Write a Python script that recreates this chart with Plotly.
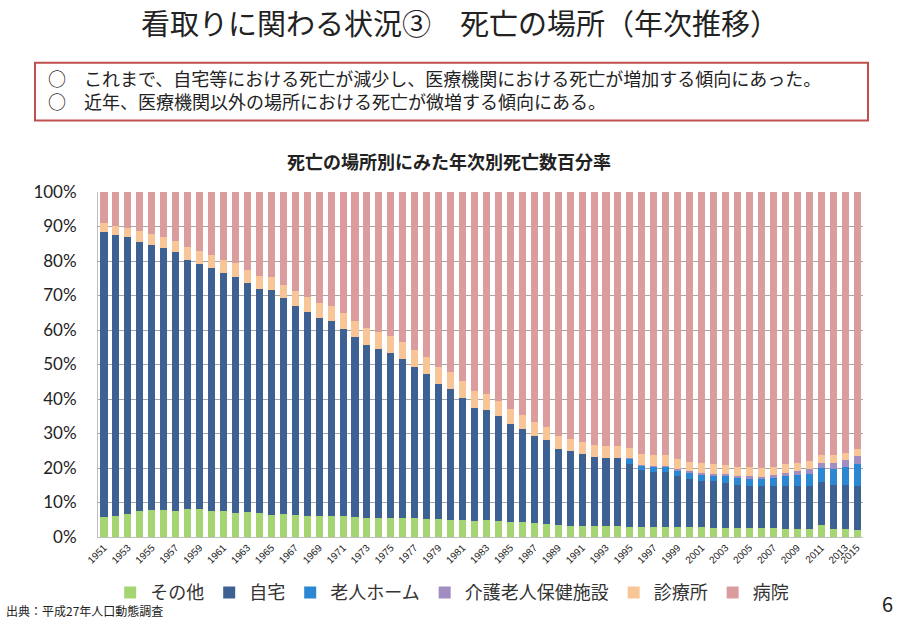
import plotly.graph_objects as go

years = [str(y) for y in range(1951, 2014)] + ["2015"]

sonota = [5.9, 6.2, 6.7, 7.5, 7.7, 7.7, 7.5, 8.0, 8.2, 7.4,
          7.6, 7.0, 7.2, 7.0, 6.5, 6.7, 6.3, 6.1, 6.1, 6.0,
          6.1, 5.9, 5.6, 5.4, 5.6, 5.4, 5.4, 5.3, 5.1, 5.0,
          4.9, 4.7, 4.8, 4.7, 4.4, 4.3, 4.1, 3.9, 3.6, 3.3,
          3.3, 3.3, 3.3, 3.2, 2.9, 2.9, 2.9, 2.9, 2.9, 2.8,
          2.8, 2.7, 2.7, 2.7, 2.6, 2.5, 2.5, 2.4, 2.4, 2.3,
          3.5, 2.4, 2.2, 2.1]

jitaku = [82.5, 81.2, 80.2, 77.9, 76.9, 76.0, 75.0, 72.4, 71.0, 70.7,
          68.9, 68.5, 66.3, 64.8, 65.0, 62.6, 60.8, 59.2, 57.4, 56.6,
          54.1, 52.0, 50.1, 49.1, 47.7, 46.2, 44.0, 41.9, 39.2, 38.0,
          35.3, 32.7, 32.0, 30.3, 28.3, 26.9, 25.2, 24.1, 22.0, 21.7,
          20.7, 20.0, 19.7, 19.8, 18.3, 16.5, 15.8, 15.8, 14.8, 13.9,
          13.5, 13.4, 13.0, 12.4, 12.2, 12.2, 12.3, 12.5, 12.4, 12.6,
          12.5, 12.8, 12.9, 12.7]

rojin_home = [None] * 44 + [1.5, 1.4, 1.6, 1.7, 1.5, 1.9,
                            1.8, 1.8, 1.9, 2.0, 2.1, 2.1, 2.4, 2.8, 3.2, 3.5,
                            4.0, 4.6, 5.3, 6.3]

rouken = [None] * 44 + [0.2, 0.2, 0.3, 0.3, 0.4, 0.5,
                        0.5, 0.5, 0.6, 0.6, 0.7, 0.7, 0.7, 0.9, 1.0, 1.3,
                        1.5, 1.7, 1.9, 2.3]

shinryojo = [2.6, 2.8, 2.8, 3.2, 3.1, 3.2, 3.4, 3.6, 3.6, 3.7,
             3.9, 3.9, 4.0, 3.9, 3.9, 3.8, 4.3, 4.3, 4.4, 4.5,
             4.8, 4.8, 5.0, 4.9, 4.9, 4.8, 4.9, 4.9, 5.0, 4.9,
             4.9, 4.8, 4.6, 4.3, 4.3, 4.2, 3.9, 3.9, 3.7, 3.4,
             3.4, 3.4, 3.3, 3.3, 3.0, 3.2, 3.1, 3.0, 3.0, 2.8,
             2.8, 2.8, 2.7, 2.6, 2.6, 2.5, 2.4, 2.5, 2.4, 2.4,
             2.3, 2.2, 2.2, 2.1]

byoin = [9.1, 9.8, 10.3, 11.4, 12.3, 13.1, 14.1, 16.0, 17.2, 18.2,
         19.6, 20.6, 22.5, 24.3, 24.6, 26.9, 28.6, 30.4, 32.1, 32.9,
         35.0, 37.3, 39.3, 40.6, 41.8, 43.6, 45.7, 47.9, 50.7, 52.1,
         54.9, 57.8, 58.6, 60.7, 63.0, 64.6, 66.8, 68.1, 70.7, 71.6,
         72.6, 73.3, 73.7, 73.7, 74.1, 75.8, 76.3, 76.3, 77.4, 78.2,
         78.6, 78.8, 79.1, 79.7, 79.8, 80.0, 79.7, 78.9, 78.6, 77.9,
         76.2, 76.3, 75.6, 74.6]

tick_years = [str(y) for y in range(1951, 2014, 2)] + ["2015"]

series = [
    ("その他", sonota, "#A5D573"),
    ("自宅", jitaku, "#3E6193"),
    ("老人ホーム", rojin_home, "#2B87D2"),
    ("介護老人保健施設", rouken, "#A28DC2"),
    ("診療所", shinryojo, "#F8C597"),
    ("病院", byoin, "#DB9C9E"),
]

JP = "Noto Sans CJK JP"

fig = go.Figure()
for name, vals, col in series:
    fig.add_trace(go.Bar(x=years, y=vals, name=name,
                         marker=dict(color=col, line=dict(width=0))))

W, H = 900, 623
# plot area in page pixels: x 98..863, y 192..539
L, R, T, B = 98, 863, 192, 539
def px(x):
    return (x - L) / (R - L)
def py(y):
    return (B - y) / (B - T)

fig.update_layout(
    width=W, height=H,
    margin=dict(l=L, r=W - R, t=T, b=H - B, pad=0),
    paper_bgcolor="white", plot_bgcolor="white",
    barmode="stack", barnorm="percent", bargap=0.41,
    showlegend=True,
    legend=dict(orientation="h", x=0.463, xanchor="center", y=py(595), yanchor="middle",
                font=dict(family=JP, size=18, color="#333333"),
                itemwidth=30, traceorder="normal", tracegroupgap=0,
                bgcolor="rgba(0,0,0,0)"),
    font=dict(family=JP, color="#333333"),
)

fig.update_yaxes(range=[0, 100], dtick=10, ticksuffix="%",
                 showgrid=True, gridcolor="#A6A6A6", gridwidth=1,
                 showline=True, linecolor="#BFBFBF", linewidth=1,
                 ticks="", ticklabelstandoff=17,
                 tickfont=dict(family="Lato", size=17, color="#222222"),
                 zeroline=False)
fig.update_xaxes(type="category", tickmode="array", tickvals=tick_years, ticktext=tick_years,
                 tickangle=-45, tickfont=dict(family="Liberation Sans", size=10, color="#222222"),
                 showline=True, linecolor="#BFBFBF", linewidth=1, ticks="",
                 showgrid=False)

# red box
fig.add_shape(type="rect", xref="paper", yref="paper",
              x0=px(35), x1=px(868), y0=py(120), y1=py(62),
              line=dict(color="#C0504D", width=2), fillcolor="white", layer="below")

box_text = ("○　これまで、自宅等における死亡が減少し、医療機関における死亡が増加する傾向にあった。"
            "<br>○　近年、医療機関以外の場所における死亡が微増する傾向にある。")

ann = [
    dict(text="看取りに関わる状況③　死亡の場所（年次推移）", x=px(460), y=py(21.5),
         font=dict(family=JP, size=29, color="#222222")),
    dict(text=box_text, x=px(46), y=py(88.5), xanchor="left", align="left",
         font=dict(family=JP, size=18, color="#222222")),
    dict(text="<b>死亡の場所別にみた年次別死亡数百分率</b>", x=px(449), y=py(161),
         font=dict(family=JP, size=18, color="#222222")),
    dict(text="出典：平成27年人口動態調査", x=px(4), y=py(613), xanchor="left",
         font=dict(family=JP, size=12, color="#222222")),
    dict(text="6", x=px(887), y=py(606), font=dict(family=JP, size=20, color="#222222")),
]
for a in ann:
    a.setdefault("xanchor", "center")
    fig.add_annotation(xref="paper", yref="paper", showarrow=False, yanchor="middle", **a)

fig.write_html("out.html", config={"displayModeBar": False},
               post_script="document.body.style.margin='0';")
